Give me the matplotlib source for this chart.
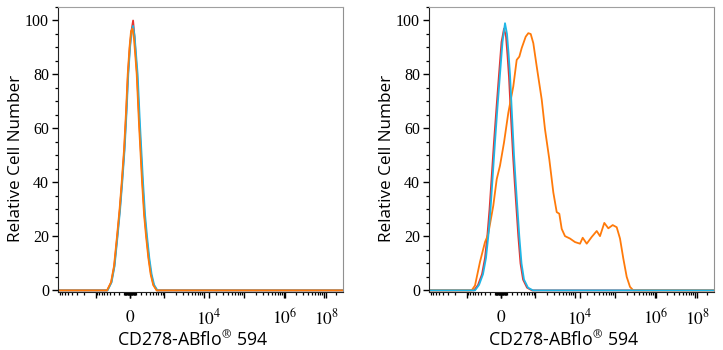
"""Two flow-cytometry histograms, CD278-ABflo 594."""
import numpy as np
import matplotlib
matplotlib.use('Agg')
import matplotlib.pyplot as plt
from matplotlib.ticker import FixedLocator, MultipleLocator

plt.rcParams['mathtext.fontset'] = 'stix'

# x values are display channels (0..1000 across the plot), y is % of max
left_orange_x = [0, 172, 186, 196.5, 207, 216, 223.5, 231.6, 238.6, 244.6, 250.9,
                 256.2, 261.4, 266.7, 272, 276.2, 284, 295, 302, 309, 317, 325,
                 334, 346, 1000]
left_orange_y = [0, 0, 3, 9, 20, 30, 40, 52, 66, 80, 90, 96, 97, 93, 86, 80, 62,
                 40, 28, 20, 12, 6, 2, 0, 0]
left_cyan_x = [0, 174, 188, 198.5, 209, 218, 225.5, 233.6, 240.6, 246.6, 252.9,
               258.2, 263.4, 269, 275, 279.5, 287.5, 298.5, 305.5, 312.5, 320.5,
               328.5, 337.5, 349, 1000]
left_cyan_y = [0, 0, 3, 9, 20, 30, 40, 52, 66, 80, 90, 96, 98, 94, 86, 80, 62,
               40, 28, 20, 12, 6, 2, 0, 0]
left_red_x = [0, 173, 187, 197.5, 208, 217, 224.5, 232.6, 239.6, 245.6, 252,
              257.5, 263.5, 268.5, 273.5, 277.5, 285.5, 296.5, 303.5, 310.5,
              318.5, 326.5, 335.5, 347, 1000]
left_red_y = [0, 0, 3, 9, 20, 30, 40, 52, 66, 80, 90, 96, 100, 94, 86, 80, 62,
              40, 28, 20, 12, 6, 2, 0, 0]

right_cyan_x = [0, 161.4, 175.5, 189.5, 200, 208, 215.8, 222.1, 231.6, 240.4,
                249.1, 257.9, 266.7, 273.7, 279, 284.2, 291.2, 298.3, 304.2,
                310.5, 316.9, 324.6, 333.4, 347.4, 364.9, 1000]
right_cyan_y = [0, 0, 2, 6, 12, 20, 30, 40, 55, 68, 80, 92, 99, 95, 88, 80, 65,
                50, 40, 30, 20, 10, 4, 1, 0, 0]
right_red_x = [0, 158, 172, 186, 196.5, 204.5, 212.3, 218.6, 228, 237, 245.6,
               254.4, 263.2, 270.2, 275.5, 280.7, 287.7, 294.8, 300.7, 307,
               313.4, 321, 330, 344, 361.4, 1000]
right_red_y = [0, 0, 2, 6, 12, 20, 30, 40, 55, 68, 80, 92, 97, 94, 87, 79, 64,
               50, 40, 30, 20, 10, 4, 1, 0, 0]
right_orange_x = [0, 149.8, 161.4, 179, 196.5, 202.5, 208, 225.6, 237.6, 249.1,
                  263.2, 278.3, 295.8, 307.7, 316.9, 325.3, 339.3, 348.4, 356.9,
                  366, 377.9, 395.5, 407, 422.1, 436.2, 448.1, 457.2, 465.6,
                  477.2, 494.8, 512.3, 529.9, 539.3, 553.4, 570.9, 588.5, 600,
                  615.1, 629.2, 644.6, 658.6, 670.2, 681.8, 693.7, 705.3, 716.9,
                  1000]
right_orange_y = [0, 0, 1.8, 10.6, 17.9, 19.4, 21, 31.4, 41.2, 46.2, 54.8, 65.8,
                  75.6, 85.4, 86.6, 89.8, 94.0, 95.3, 95, 91.6, 83, 70.7, 59.7,
                  48.6, 36.3, 29.0, 28.4, 22.8, 20.1, 19.2, 17.9, 17.3, 19.5,
                  17.3, 19.8, 22, 20.1, 25, 23, 24.2, 23.4, 19.2, 11.8, 5, 1.3,
                  0, 0]

x_tick_labels = ['$0$', '$10^{4}$', '$10^{6}$', '$10^{8}$']
x_tick_label_pos = [252, 530, 795, 942]

RED = '#e5332f'
CYAN = '#1fb6e6'
ORANGE = '#ff7a0a'


def _pos(v):
    # biexponential-looking display: channel of a fluorescence value
    return (72 + 17.37 * np.arcsinh(np.asarray(v, float) / 282.0)) * 1000 / 285


def _style_axis(ax):
    ax.set_xlim(0, 1000)
    ax.set_ylim(-0.6, 105)

    major = [-1e3, 0, 1e3, 1e4, 1e5, 1e6, 1e7]
    minor = []
    for n in range(1, 8):
        for k in range(1, 10):
            minor += [k * 10 ** n, -k * 10 ** n]
    minor_pos = [p for p in _pos(minor) if 0 <= p <= 1000]
    ax.xaxis.set_minor_locator(FixedLocator(minor_pos))
    ax.set_xticks(list(_pos(major)) + x_tick_label_pos)
    ax.set_xticklabels([''] * len(major) + x_tick_labels)
    ax.tick_params(axis='x', which='major', direction='out', length=4.5,
                   width=1.0, pad=7, labelsize=12.5)
    ax.tick_params(axis='x', which='minor', direction='out', length=2.5,
                   width=0.9)

    ax.yaxis.set_major_locator(MultipleLocator(20))
    ax.yaxis.set_minor_locator(MultipleLocator(5))
    ax.tick_params(axis='y', which='major', direction='out', length=4.5,
                   width=1.0, pad=2, labelsize=11.5)
    ax.tick_params(axis='y', which='minor', direction='out', length=2.5,
                   width=0.9)
    for lab in ax.get_yticklabels():
        lab.set_fontfamily('Liberation Serif')

    ax.spines['left'].set_color('#222222')
    ax.spines['bottom'].set_color('#222222')
    ax.spines['top'].set_color('#a0a0a0')
    ax.spines['right'].set_color('#909090')

    ax.set_ylabel('Relative Cell Number', family='Open Sans', fontsize=12.3)
    ax.yaxis.set_label_coords(-0.118, 0.468)
    ax.set_xlabel('CD278-ABflo$^{\\circledR}$ 594', family='Open Sans',
                  fontsize=12.8)
    ax.xaxis.set_label_coords(0.474, -0.135)


fig = plt.figure(figsize=(7.23, 3.5), dpi=100)
ax1 = fig.add_axes([58 / 723, 58 / 350, 285 / 723, 285 / 350])
ax2 = fig.add_axes([429 / 723, 58 / 350, 285 / 723, 285 / 350])

ax1.plot(left_red_x, left_red_y, color=RED, lw=1.3)
ax1.plot(left_cyan_x, left_cyan_y, color=CYAN, lw=1.3)
ax1.plot(left_orange_x, left_orange_y, color=ORANGE, lw=1.3)

ax2.plot(right_red_x, right_red_y, color=RED, lw=1.3)
ax2.plot(right_orange_x, right_orange_y, color=ORANGE, lw=1.3)
ax2.plot(right_cyan_x, right_cyan_y, color=CYAN, lw=1.3)

for ax in (ax1, ax2):
    _style_axis(ax)

fig.savefig('out.png', dpi=100)
